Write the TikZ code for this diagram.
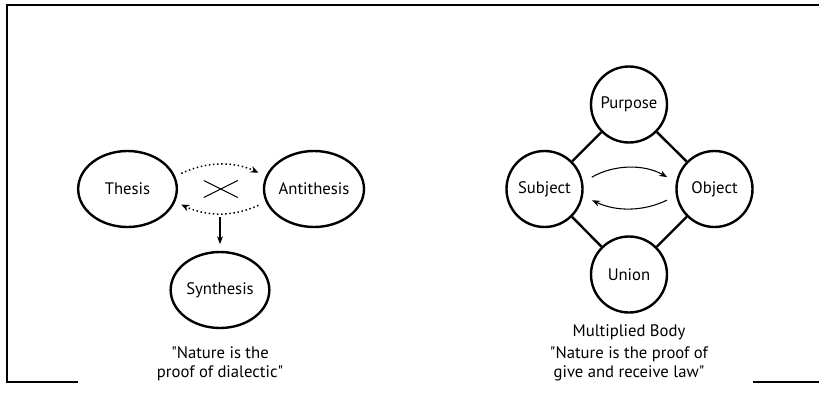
\documentclass[tikz,border=0pt]{standalone}
\usepackage{fontspec}
\setmainfont{PT Sans}
\usetikzlibrary{arrows.meta,positioning,shapes.geometric,calc}

\begin{document}
\begin{tikzpicture}[
    x=0.75pt,y=-0.75pt,
    font=\fontsize{12.5}{14.5}\selectfont,
    oval/.style={draw,ellipse,line width=1.8pt,minimum width=74pt,minimum height=57pt,inner sep=0pt},
    ball/.style={draw,circle,line width=1.8pt,minimum size=57pt,inner sep=0pt},
    link/.style={line width=1.8pt},
    dotarr/.style={-{Stealth[length=6pt,width=5pt]},dotted,line width=1.1pt},
    arr/.style={-{Stealth[length=6pt,width=4.5pt]},line width=0.8pt},
    note/.style={align=center,inner sep=0pt}
  ]
    \useasboundingbox (0,0) rectangle (819,393);
    % frame
    \draw[line width=1.6pt] (78,382) -- (7,382) -- (7,5) -- (819,5);
    \draw[line width=1.6pt] (753,382) -- (819,382);

    % dialectic
    \node[oval] (thesis) at (127.5,189) {Thesis};
    \node[oval] (anti) at (314,189) {Antithesis};
    \node[oval] (synth) at (220,290) {Synthesis};
    \draw[dotarr,shorten <=5pt,shorten >=6pt] (thesis.15) to[bend left=25] (anti.165);
    \draw[dotarr,shorten <=6pt,shorten >=5pt] (anti.195) to[bend left=25] (thesis.345);
    \coordinate (cross) at ($(thesis)!0.5!(anti)$);
    \draw[line width=0.8pt] (cross) ++(-17,-8.5) -- ++(34,17);
    \draw[line width=0.8pt] (cross) ++(-17,8.5) -- ++(34,-17);
    \coordinate (down) at (220,217);
    \draw[arr,shorten >=5pt] (down) -- (synth);
    \node[note] (dialq) at (220,364) {\textquotedbl Nature is the\\proof of dialectic\textquotedbl};

    % give and receive
    \node[ball] (purpose) at (629,104.5) {Purpose};
    \node[ball] (subject) at (544.5,189) {Subject};
    \node[ball] (object) at (714.5,189) {Object};
    \node[ball] (union) at (629,274.5) {Union};
    \draw[link] (purpose)--(subject); \draw[link] (purpose)--(object);
    \draw[link] (subject)--(union); \draw[link] (object)--(union);
    \draw[arr,shorten <=7.5pt,shorten >=7.5pt] (subject.10) to[bend left=30] (object.170);
    \draw[arr,shorten <=7.5pt,shorten >=7.5pt] (object.190) to[bend left=26] (subject.350);
    \node[note] (body) at (629,332) {Multiplied Body};
    \node[note] (giveq) at (629,364) {\textquotedbl Nature is the proof of\\give and receive law\textquotedbl};
  \end{tikzpicture}
\end{document}
